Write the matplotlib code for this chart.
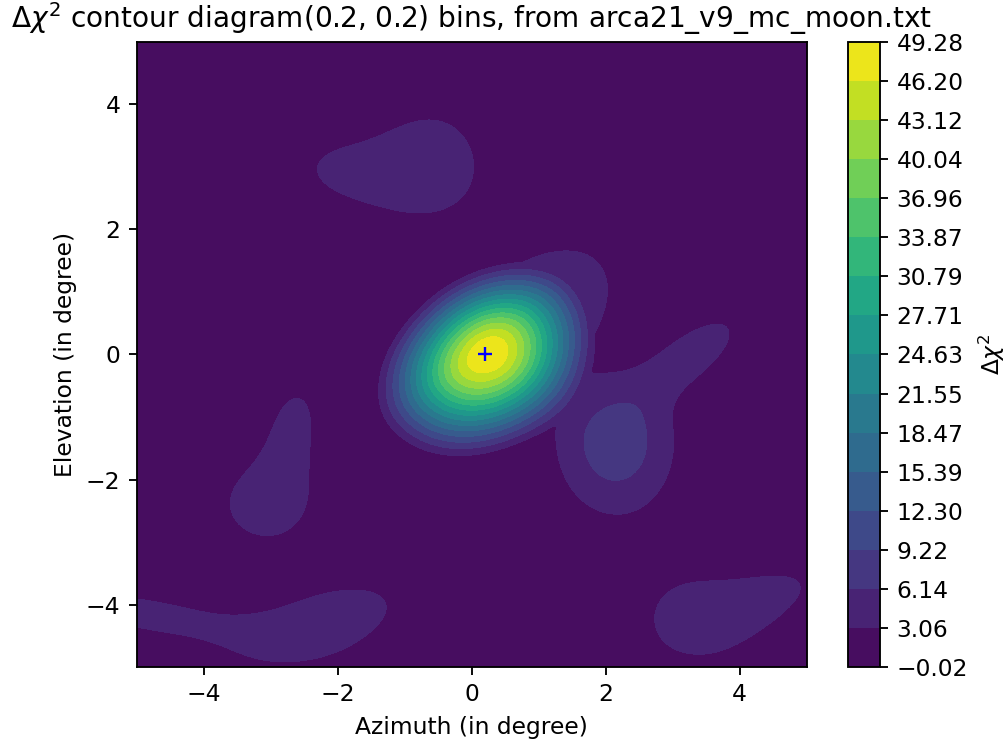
import numpy as np
import matplotlib.pyplot as plt

# blobs: centre, height, floor, widths along the
# tilted axis (forward / backward side), widths across (left / right side), tilt
blob_x = [0.20, 0.90, -1.65, -0.55, -3.10, -2.68, 2.15, 3.30, -2.20, -4.90, 3.35, 4.40]
blob_y = [-0.03, 0.65, 2.90, 3.15, -2.40, -1.20, -1.43, 0.00, -4.30, -4.15, -4.20, -3.90]
blob_amp = [57.1, 6.0, 3.7, 3.8, 4.2, 3.8, 8.0, 4.5, 4.5, 4.0, 4.0, 3.5]
blob_floor = [12.0, 0, 0, 0, 0, 0, 0, 0, 0, 0, 0, 0]
blob_sa_fwd = [0.98, 1.10, 1.05, 0.55, 0.60, 0.75, 0.62, 0.75, 1.10, 1.30, 0.80, 0.70]
blob_sa_back = [1.10, 1.10, 1.05, 0.55, 0.60, 0.75, 0.62, 0.75, 1.10, 1.30, 0.80, 0.70]
blob_sb_left = [0.74, 0.65, 0.58, 0.65, 0.55, 0.36, 0.68, 0.32, 0.50, 0.30, 0.70, 0.30]
blob_sb_right = [0.86, 0.74, 0.58, 0.65, 0.55, 0.36, 0.80, 0.32, 0.50, 0.30, 0.70, 0.30]
blob_ang = [40, 40, -8, 0, 0, 80, 0, 40, 20, -10, 0, 25]

level_min, level_max, n_bands = -0.02, 49.28, 16
cbar_labels = ['\u22120.02', '3.06', '6.14', '9.22', '12.30', '15.39', '18.47',
               '21.55', '24.63', '27.71', '30.79', '33.87', '36.96', '40.04',
               '43.12', '46.20', '49.28']
best_az, best_el = 0.2, 0.0

levels = np.linspace(level_min, level_max, n_bands + 1)

az = np.arange(-5, 5.001, 0.04)
el = np.arange(-5, 5.001, 0.04)
AZ, EL = np.meshgrid(az, el)
chi2 = np.zeros_like(AZ)
for i in range(len(blob_x)):
    t = np.radians(blob_ang[i])
    dx, dy = AZ - blob_x[i], EL - blob_y[i]
    u = dx * np.cos(t) + dy * np.sin(t)
    v = -dx * np.sin(t) + dy * np.cos(t)
    sa = np.where(u >= 0, blob_sa_fwd[i], blob_sa_back[i])
    sb = np.where(v >= 0, blob_sb_left[i], blob_sb_right[i])
    bump = blob_amp[i] * np.exp(-0.5 * ((u / sa) ** 2 + (v / sb) ** 2))
    chi2 += np.clip(bump - blob_floor[i], 0, None)
chi2 = np.clip(chi2, level_min, level_max)

fig = plt.figure(figsize=(1007 / 168, 742 / 168), dpi=168)
ax = fig.add_axes([0.136, 0.101, 0.665, 0.8425])
cax = fig.add_axes([0.842, 0.101, 0.032, 0.8425])

cs = ax.contourf(AZ, EL, chi2, levels=levels, cmap='viridis')
ax.plot(best_az, best_el, 'b+')
ax.set_xlim(-5, 5)
ax.set_ylim(-5, 5)
ax.set_xlabel('Azimuth (in degree)')
ax.set_ylabel('Elevation (in degree)')
ax.set_title(r'$\Delta\chi^2$ contour diagram(0.2, 0.2) bins, from arca21_v9_mc_moon.txt')

cb = fig.colorbar(cs, cax=cax, ticks=levels)
cb.set_ticklabels(cbar_labels)
cb.set_label(r'$\Delta\chi^2$')

fig.savefig('out.png', dpi=168)
